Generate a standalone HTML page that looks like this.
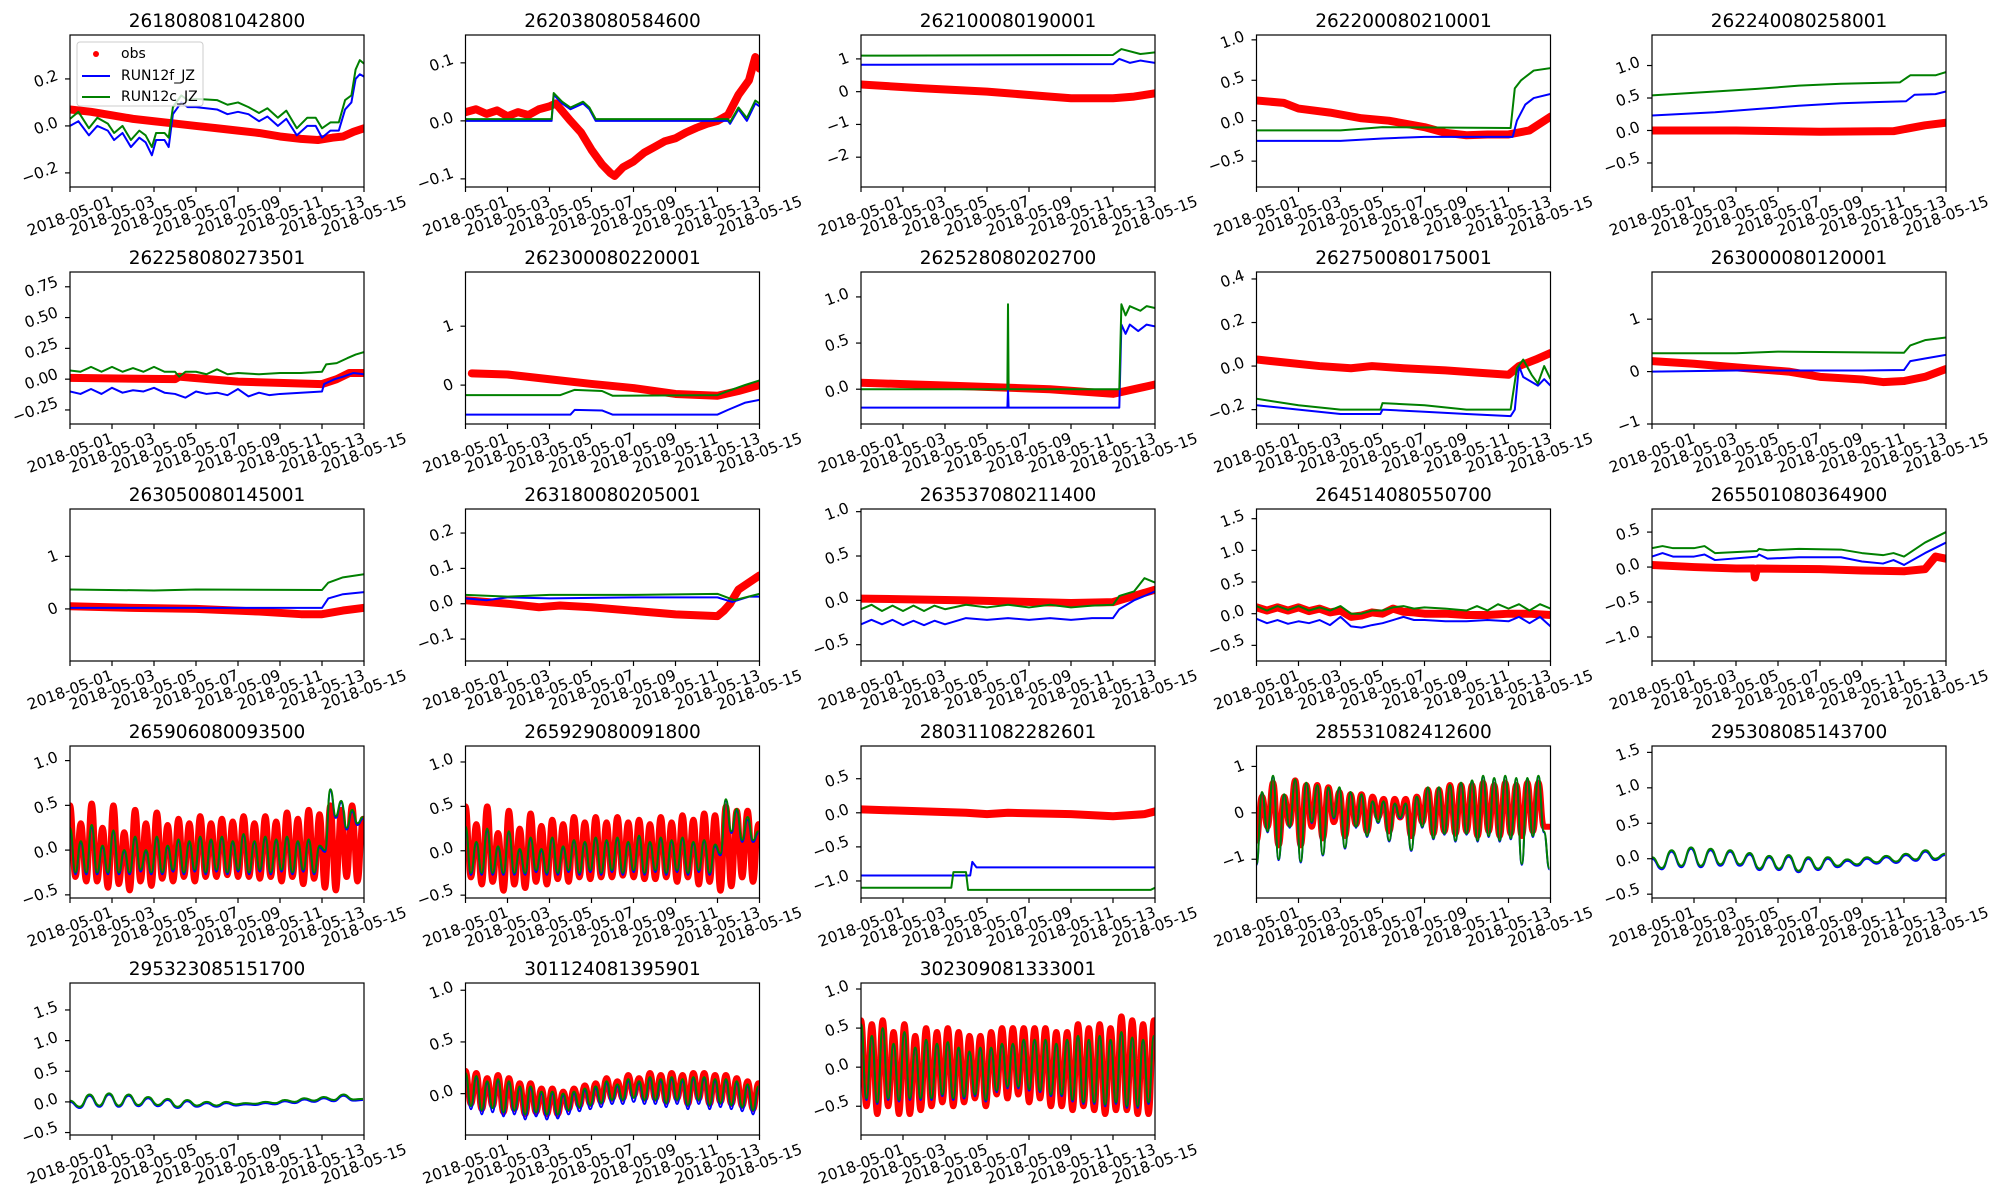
<!DOCTYPE html>
<html><head><meta charset="utf-8">
<style>
html,body{margin:0;padding:0;background:#fff;}
svg{display:block;font-family:"DejaVu Sans","Liberation Sans",sans-serif;}
</style></head>
<body>
<svg id="fig" width="2000" height="1200" viewBox="0 0 2000 1200" xmlns="http://www.w3.org/2000/svg"></svg>
<script>
// ---------- chart data ----------
const titles = ["261808081042800","262038080584600","262100080190001","262200080210001","262240080258001",
"262258080273501","262300080220001","262528080202700","262750080175001","263000080120001",
"263050080145001","263180080205001","263537080211400","264514080550700","265501080364900",
"265906080093500","265929080091800","280311082282601","285531082412600","295308085143700",
"295323085151700","301124081395901","302309081333001"];
const yLims = [[-0.26,0.387],[-0.114,0.148],[-2.91,1.73],[-0.82,1.06],[-0.87,1.47],
[-0.364,0.87],[-0.66,1.92],[-0.377,1.27],[-0.266,0.432],[-1.0,1.9],
[-0.99,1.9],[-0.162,0.268],[-0.684,1.03],[-0.747,1.653],[-1.343,0.83],
[-0.535,1.163],[-0.532,1.18],[-1.25,0.98],[-1.835,1.44],[-0.554,1.59],
[-0.54,1.94],[-0.4,1.07],[-0.868,1.077]];
const yTickVals = [[-0.2,0,0.2],[-0.1,0,0.1],[-2,-1,0,1],[-0.5,0,0.5,1],[-0.5,0,0.5,1],
[-0.25,0,0.25,0.5,0.75],[0,1],[0,0.5,1],[-0.2,0,0.2,0.4],[-1,0,1],
[0,1],[-0.1,0,0.1,0.2],[-0.5,0,0.5,1],[-0.5,0,0.5,1,1.5],[-1,-0.5,0,0.5],
[-0.5,0,0.5,1],[-0.5,0,0.5,1],[-1,-0.5,0,0.5],[-1,0,1],[-0.5,0,0.5,1,1.5],
[-0.5,0,0.5,1,1.5],[0,0.5,1],[-0.5,0,0.5,1]];
const yTickLabels = [["−0.2","0.0","0.2"],["−0.1","0.0","0.1"],["−2","−1","0","1"],["−0.5","0.0","0.5","1.0"],["−0.5","0.0","0.5","1.0"],
["−0.25","0.00","0.25","0.50","0.75"],["0","1"],["0.0","0.5","1.0"],["−0.2","0.0","0.2","0.4"],["−1","0","1"],
["0","1"],["−0.1","0.0","0.1","0.2"],["−0.5","0.0","0.5","1.0"],["−0.5","0.0","0.5","1.0","1.5"],["−1.0","−0.5","0.0","0.5"],
["−0.5","0.0","0.5","1.0"],["−0.5","0.0","0.5","1.0"],["−1.0","−0.5","0.0","0.5"],["−1","0","1"],["−0.5","0.0","0.5","1.0","1.5"],
["−0.5","0.0","0.5","1.0","1.5"],["0.0","0.5","1.0"],["−0.5","0.0","0.5","1.0"]];
const xTickDays = [0,2,4,6,8,10,12,14];
const xTickLabels = ["2018-05-01","2018-05-03","2018-05-05","2018-05-07","2018-05-09","2018-05-11","2018-05-13","2018-05-15"];
const legendLabels = ["obs","RUN12f_JZ","RUN12c_JZ"];

// series as [day, value] pairs
const obs1=[[0,0.07],[1,0.06],[2,0.045],[3,0.03],[4,0.02],[5,0.01],[6,0.0],[7,-0.01],[8,-0.02],[9,-0.03],[10,-0.045],[11,-0.055],[11.8,-0.06],[12.5,-0.05],[13,-0.045],[13.5,-0.025],[14,-0.01]];
const f1=[[0,0.0],[0.4,0.02],[0.9,-0.04],[1.3,0.0],[1.8,-0.02],[2.1,-0.06],[2.5,-0.03],[2.9,-0.09],[3.3,-0.05],[3.6,-0.07],[3.9,-0.125],[4.1,-0.06],[4.5,-0.06],[4.7,-0.09],[4.9,0.05],[5.3,0.1],[5.6,0.08],[6,0.08],[7,0.07],[7.5,0.05],[8,0.06],[8.5,0.05],[9,0.02],[9.4,0.04],[9.9,0.0],[10.3,0.03],[10.8,-0.04],[11.3,0.0],[11.7,0.0],[12,-0.05],[12.4,-0.02],[12.8,-0.02],[13.1,0.07],[13.4,0.1],[13.6,0.2],[13.8,0.22],[14,0.21]];
const c1=[[0,0.03],[0.4,0.06],[0.9,-0.01],[1.3,0.035],[1.8,0.01],[2.1,-0.03],[2.5,0.0],[2.9,-0.06],[3.3,-0.02],[3.6,-0.04],[3.9,-0.09],[4.1,-0.03],[4.5,-0.03],[4.7,-0.05],[4.9,0.08],[5.3,0.13],[5.6,0.11],[6,0.115],[7,0.11],[7.5,0.09],[8,0.1],[8.5,0.08],[9,0.055],[9.4,0.075],[9.9,0.035],[10.3,0.065],[10.8,-0.01],[11.3,0.035],[11.7,0.035],[12,-0.01],[12.4,0.015],[12.8,0.015],[13.1,0.11],[13.4,0.13],[13.6,0.24],[13.8,0.28],[14,0.265]];
const obs2=[[0,0.015],[0.5,0.02],[1,0.012],[1.5,0.018],[2,0.008],[2.5,0.015],[3,0.01],[3.5,0.02],[4,0.025],[4.3,0.03],[5,0.0],[5.5,-0.02],[6,-0.05],[6.5,-0.075],[6.9,-0.09],[7.1,-0.095],[7.5,-0.08],[8,-0.07],[8.5,-0.055],[9,-0.045],[9.5,-0.035],[10,-0.03],[10.5,-0.02],[11,-0.012],[11.5,-0.005],[12,0.0],[12.5,0.01],[13,0.045],[13.5,0.07],[13.8,0.11],[14,0.09]];
const f2=[[0,0.0],[4.1,0.0],[4.2,0.045],[4.6,0.03],[5.0,0.02],[5.6,0.03],[5.9,0.02],[6.2,0.0],[12.5,0.0],[12.6,-0.005],[13.0,0.02],[13.4,0.0],[13.8,0.03],[14,0.025]];
const c2=[[0,0.003],[4.1,0.003],[4.2,0.048],[4.6,0.033],[5.0,0.023],[5.6,0.033],[5.9,0.023],[6.2,0.003],[12.5,0.003],[12.6,-0.002],[13.0,0.023],[13.4,0.005],[13.8,0.035],[14,0.03]];
const obs3=[[0,0.22],[3,0.1],[6,0.0],[9,-0.15],[10,-0.2],[12,-0.2],[13,-0.15],[14,-0.05]];
const f3=[[0,0.82],[12,0.84],[12.3,1.0],[12.8,0.88],[13.3,0.95],[14,0.88]];
const c3=[[0,1.1],[12,1.12],[12.4,1.3],[13.3,1.15],[14,1.2]];
const obs4=[[0,0.25],[1.3,0.22],[2,0.15],[3.5,0.1],[5,0.03],[6.3,0.0],[8,-0.08],[9,-0.15],[10,-0.18],[11,-0.17],[12,-0.17],[13,-0.12],[14,0.05]];
const f4=[[0,-0.25],[4,-0.25],[6,-0.22],[8,-0.2],[12.2,-0.2],[12.4,0.0],[12.8,0.2],[13.2,0.28],[14,0.33]];
const c4=[[0,-0.12],[4,-0.12],[6,-0.08],[12.1,-0.09],[12.3,0.4],[12.6,0.5],[13.2,0.62],[14,0.65]];
const obs5=[[0,0.0],[4,0.0],[8,-0.02],[11.5,-0.01],[13,0.08],[14,0.12]];
const f5=[[0,0.23],[3,0.28],[5,0.33],[7,0.38],[9,0.42],[11,0.44],[12.1,0.45],[12.5,0.55],[13.5,0.56],[14,0.6]];
const c5=[[0,0.54],[3,0.6],[5,0.64],[7,0.69],[9,0.72],[11.8,0.74],[12.3,0.85],[13.5,0.85],[14,0.9]];
const obs6=[[0,0.01],[5,0.0],[5.2,0.02],[8,-0.02],[12,-0.04],[12.7,0.0],[13.3,0.05],[14,0.05]];
const f6=[[0,-0.1],[0.5,-0.12],[1,-0.08],[1.5,-0.12],[2,-0.07],[2.5,-0.11],[3,-0.09],[3.5,-0.1],[4,-0.07],[4.5,-0.11],[5,-0.12],[5.5,-0.15],[6,-0.1],[6.5,-0.12],[7,-0.11],[7.5,-0.13],[8,-0.08],[8.5,-0.14],[9,-0.11],[9.5,-0.13],[10,-0.12],[11,-0.11],[12,-0.1],[12.1,-0.04],[12.6,0.0],[13,0.02],[13.5,0.05],[14,0.04]];
const c6=[[0,0.07],[0.5,0.06],[1,0.1],[1.5,0.06],[2,0.1],[2.5,0.06],[3,0.09],[3.5,0.06],[4,0.1],[4.5,0.06],[5,0.06],[5.2,0.02],[5.5,0.06],[6,0.06],[6.5,0.04],[7,0.08],[7.5,0.04],[8,0.05],[9,0.04],[10,0.05],[11,0.05],[12,0.06],[12.2,0.12],[12.7,0.13],[13.2,0.17],[13.6,0.2],[14,0.22]];
const obs7=[[0.3,0.2],[2,0.18],[4,0.1],[6,0.02],[8,-0.05],[10,-0.15],[12,-0.18],[13,-0.1],[14,0.0]];
const f7=[[0,-0.5],[5,-0.5],[5.2,-0.42],[6.5,-0.43],[7,-0.5],[12,-0.5],[12.5,-0.42],[13.3,-0.3],[14,-0.25]];
const c7=[[0,-0.17],[4.5,-0.17],[5.2,-0.08],[6.5,-0.1],[7,-0.18],[12,-0.17],[12.5,-0.1],[13.3,0.0],[14,0.08]];
const obs8=[[0,0.07],[4,0.04],[9,0.0],[12,-0.05],[13,0.0],[14,0.05]];
const f8=[[0,-0.2],[6.97,-0.2],[7.0,0.0],[7.03,-0.2],[12.3,-0.2],[12.4,0.7],[12.6,0.6],[12.8,0.7],[13.2,0.63],[13.6,0.7],[14,0.68]];
const c8=[[0,0.0],[6.97,0.0],[7.0,0.92],[7.03,0.0],[12.3,0.0],[12.4,0.92],[12.6,0.8],[12.8,0.9],[13.3,0.85],[13.6,0.9],[14,0.88]];
const obs9=[[0,0.03],[3,0.0],[4.5,-0.01],[5.5,0.0],[7,-0.01],[9,-0.02],[10.5,-0.03],[12,-0.04],[12.5,0.0],[13.3,0.03],[14,0.06]];
const f9=[[0,-0.18],[2,-0.2],[4,-0.22],[5.9,-0.22],[6.0,-0.2],[8,-0.21],[10,-0.22],[12.1,-0.23],[12.3,-0.2],[12.5,0.0],[12.7,-0.05],[13.4,-0.09],[13.7,-0.06],[14,-0.09]];
const c9=[[0,-0.15],[2,-0.18],[4,-0.2],[5.9,-0.2],[6.0,-0.17],[8,-0.18],[10,-0.2],[12.1,-0.2],[12.4,-0.01],[12.7,0.03],[13.1,-0.04],[13.4,-0.08],[13.7,0.0],[14,-0.06]];
const obs10=[[0,0.2],[2,0.15],[4,0.08],[6.5,0.0],[8,-0.1],[10,-0.15],[11,-0.2],[12,-0.18],[13,-0.1],[14,0.05]];
const f10=[[0,0.0],[4,0.02],[10,0.02],[12,0.03],[12.3,0.2],[13,0.25],[14,0.32]];
const c10=[[0,0.35],[4,0.35],[6,0.38],[12,0.36],[12.3,0.5],[13,0.6],[14,0.65]];
const obs11=[[0,0.05],[3,0.02],[6,0.0],[9,-0.05],[11,-0.1],[12,-0.1],[13,-0.03],[14,0.02]];
const f11=[[0,0.02],[12,0.02],[12.3,0.2],[13,0.28],[14,0.32]];
const c11=[[0,0.37],[4,0.35],[6,0.37],[12,0.36],[12.3,0.5],[13,0.6],[14,0.66]];
const obs12=[[0,0.01],[2,0.0],[3.5,-0.01],[4.5,-0.005],[6,-0.01],[8,-0.02],[10,-0.03],[12,-0.035],[12.3,-0.02],[12.6,0.0],[13,0.04],[14,0.08]];
const f12=[[0,0.015],[1,0.01],[2,0.018],[4,0.015],[8,0.018],[12,0.018],[12.7,0.005],[13.5,0.02],[14,0.02]];
const c12=[[0,0.025],[2,0.02],[4,0.025],[8,0.025],[12,0.028],[12.8,0.01],[14,0.028]];
const obs13=[[0,0.02],[5,0.0],[10,-0.03],[12,-0.02],[13,0.05],[14,0.12]];
const f13=[[0,-0.27],[0.5,-0.22],[1,-0.27],[1.5,-0.22],[2,-0.28],[2.5,-0.23],[3,-0.28],[3.5,-0.23],[4,-0.27],[5,-0.2],[6,-0.22],[7,-0.2],[8,-0.22],[9,-0.2],[10,-0.22],[11,-0.2],[12,-0.2],[12.3,-0.1],[13,0.0],[14,0.1]];
const c13=[[0,-0.1],[0.5,-0.05],[1,-0.12],[1.5,-0.06],[2,-0.12],[2.5,-0.06],[3,-0.12],[3.5,-0.06],[4,-0.1],[5,-0.05],[6,-0.08],[7,-0.05],[8,-0.08],[9,-0.05],[10,-0.08],[11,-0.06],[12,-0.05],[12.3,0.05],[13,0.1],[13.5,0.25],[14,0.2]];
const obs14=[[0,0.1],[0.5,0.05],[1,0.1],[1.5,0.05],[2,0.1],[2.5,0.04],[3,0.08],[3.5,0.02],[4,0.05],[4.5,-0.05],[5,-0.03],[5.5,0.02],[6,0.0],[6.5,0.08],[7,0.03],[7.5,0.02],[8,0.0],[9,0.0],[10,-0.02],[11,-0.02],[12,0.0],[13,0.0],[14,-0.02]];
const f14=[[0,-0.08],[0.5,-0.15],[1,-0.1],[1.5,-0.16],[2,-0.12],[2.5,-0.15],[3,-0.1],[3.5,-0.18],[4,-0.05],[4.5,-0.2],[5,-0.22],[5.5,-0.18],[6,-0.15],[6.5,-0.1],[7,-0.05],[7.5,-0.1],[8,-0.1],[9,-0.12],[10,-0.12],[11,-0.1],[12,-0.12],[12.5,-0.05],[13,-0.15],[13.5,-0.05],[14,-0.2]];
const c14=[[0,0.12],[0.5,0.05],[1,0.12],[1.5,0.06],[2,0.12],[2.5,0.05],[3,0.1],[3.5,0.05],[4,0.12],[4.5,0.0],[5,0.0],[5.5,0.05],[6,0.05],[6.5,0.1],[7,0.12],[7.5,0.08],[8,0.1],[9,0.08],[10,0.05],[10.5,0.12],[11,0.05],[11.5,0.15],[12,0.08],[12.5,0.15],[13,0.05],[13.5,0.15],[14,0.08]];
const obs15=[[0,0.03],[2,0.0],[4,-0.02],[4.85,-0.02],[4.9,-0.15],[5.0,-0.02],[8,-0.03],[10,-0.05],[12,-0.06],[13,-0.03],[13.5,0.15],[14,0.12]];
const f15=[[0,0.15],[0.5,0.2],[1,0.15],[2,0.15],[2.5,0.18],[3,0.1],[5,0.15],[5.1,0.18],[5.5,0.12],[7,0.14],[9,0.14],[10,0.08],[11,0.05],[11.5,0.1],[12,0.03],[13,0.2],[14,0.35]];
const c15=[[0,0.27],[0.5,0.3],[1,0.27],[2,0.27],[2.5,0.3],[3,0.2],[5,0.23],[5.1,0.26],[5.5,0.24],[7,0.26],[9,0.25],[10,0.2],[11,0.17],[11.5,0.2],[12,0.15],[13,0.35],[14,0.5]];
const obs18=[[0,0.05],[3,0.02],[5,0.0],[6,-0.02],[7,0.0],[10,-0.02],[12,-0.05],[13.5,-0.02],[14,0.02]];
const f18=[[0,-0.92],[5.2,-0.92],[5.3,-0.72],[5.5,-0.8],[14,-0.8]];
const c18=[[0,-1.1],[4.3,-1.1],[4.4,-0.87],[5.0,-0.87],[5.1,-1.13],[13.8,-1.13],[14,-1.1]];

// tidal series: alternating extrema, evenly spaced over the record
const obs16=[0.5,-0.3,0.3,-0.35,0.52,-0.35,0.25,-0.42,0.5,-0.38,0.2,-0.45,0.45,-0.35,0.3,-0.4,0.42,-0.32,0.28,-0.35,0.35,-0.3,0.3,-0.35,0.38,-0.3,0.3,-0.3,0.35,-0.28,0.32,-0.3,0.38,-0.3,0.3,-0.32,0.38,-0.3,0.32,-0.35,0.42,-0.3,0.35,-0.38,0.45,-0.32,0.4,-0.42,0.5,-0.45,0.45,-0.3,0.5,-0.35,0.35];
const f16=[0.22,-0.27,0.08,-0.27,0.25,-0.27,0.03,-0.27,0.2,-0.27,-0.02,-0.27,0.13,-0.24,-0.02,-0.27,0.13,-0.27,0.03,-0.24,0.1,-0.27,0.08,-0.24,0.13,-0.27,0.1,-0.24,0.13,-0.27,0.08,-0.24,0.16,-0.27,0.08,-0.24,0.13,-0.27,0.1,-0.24,0.13,-0.27,0.08,-0.24,0.1,-0.27,0.03,-0.02,0.66,0.36,0.53,0.23,0.43,0.28,0.35];
const c16=[0.25,-0.25,0.1,-0.25,0.28,-0.25,0.05,-0.25,0.22,-0.25,0.0,-0.25,0.15,-0.22,0.0,-0.25,0.15,-0.25,0.05,-0.22,0.12,-0.25,0.1,-0.22,0.15,-0.25,0.12,-0.22,0.15,-0.25,0.1,-0.22,0.18,-0.25,0.1,-0.22,0.15,-0.25,0.12,-0.22,0.15,-0.25,0.1,-0.22,0.12,-0.25,0.05,0.0,0.68,0.38,0.55,0.25,0.45,0.3,0.37];
const obs17=[0.5,-0.3,0.3,-0.38,0.5,-0.35,0.2,-0.45,0.45,-0.38,0.25,-0.42,0.42,-0.35,0.28,-0.38,0.35,-0.32,0.3,-0.35,0.38,-0.3,0.32,-0.32,0.38,-0.3,0.32,-0.3,0.38,-0.28,0.32,-0.3,0.35,-0.32,0.3,-0.32,0.38,-0.3,0.32,-0.35,0.4,-0.3,0.35,-0.38,0.42,-0.35,0.4,-0.45,0.5,-0.4,0.45,-0.3,0.45,-0.35,0.3];
const f17=[0.25,-0.27,0.08,-0.27,0.22,-0.27,0.03,-0.27,0.2,-0.27,0.0,-0.27,0.13,-0.24,0.0,-0.27,0.13,-0.27,0.03,-0.24,0.1,-0.27,0.08,-0.24,0.13,-0.27,0.1,-0.24,0.13,-0.27,0.08,-0.24,0.15,-0.27,0.08,-0.24,0.13,-0.27,0.1,-0.24,0.13,-0.27,0.08,-0.24,0.1,-0.27,0.05,-0.05,0.56,0.2,0.45,0.1,0.35,0.1,0.2];
const c17=[0.27,-0.25,0.1,-0.25,0.25,-0.25,0.05,-0.25,0.22,-0.25,0.02,-0.25,0.15,-0.22,0.02,-0.25,0.15,-0.25,0.05,-0.22,0.12,-0.25,0.1,-0.22,0.15,-0.25,0.12,-0.22,0.15,-0.25,0.1,-0.22,0.17,-0.25,0.1,-0.22,0.15,-0.25,0.12,-0.22,0.15,-0.25,0.1,-0.22,0.12,-0.25,0.07,-0.03,0.58,0.22,0.47,0.12,0.38,0.12,0.22];
const obs19=[-0.6,0.35,-0.3,0.65,-0.7,0.35,-0.25,0.7,-0.7,0.6,-0.3,0.6,-0.55,0.55,-0.2,0.45,-0.5,0.4,-0.25,0.4,-0.4,0.35,-0.1,0.3,-0.4,0.3,-0.1,0.3,-0.5,0.35,-0.2,0.5,-0.45,0.5,-0.4,0.6,-0.45,0.6,-0.4,0.6,-0.5,0.65,-0.4,0.6,-0.5,0.65,-0.45,0.6,-0.5,0.65,-0.4,0.65,-0.3,-0.3];
const f19=[-1.12,0.43,-0.42,0.78,-1.02,0.38,-0.32,0.7,-1.07,0.63,-0.22,0.58,-0.92,0.53,-0.12,0.53,-0.77,0.43,-0.32,0.38,-0.52,0.23,-0.22,0.23,-0.62,0.18,-0.12,0.18,-0.82,0.33,-0.32,0.53,-0.57,0.53,-0.47,0.58,-0.62,0.63,-0.47,0.68,-0.62,0.78,-0.52,0.73,-0.62,0.78,-0.57,0.73,-1.12,0.73,-0.52,0.78,-0.42,-1.22];
const c19=[-1.1,0.45,-0.4,0.8,-1.0,0.4,-0.3,0.72,-1.05,0.65,-0.2,0.6,-0.9,0.55,-0.1,0.55,-0.75,0.45,-0.3,0.4,-0.5,0.25,-0.2,0.25,-0.6,0.2,-0.1,0.2,-0.8,0.35,-0.3,0.55,-0.55,0.55,-0.45,0.6,-0.6,0.65,-0.45,0.7,-0.6,0.8,-0.5,0.75,-0.6,0.8,-0.55,0.75,-1.1,0.75,-0.5,0.8,-0.4,-1.2];
const f20=[0.0,-0.15,0.1,-0.12,0.14,-0.12,0.12,-0.1,0.1,-0.1,0.06,-0.16,0.02,-0.16,0.03,-0.19,0.0,-0.16,0.0,-0.12,-0.03,-0.1,0.0,-0.07,0.02,-0.06,0.05,-0.03,0.1,-0.02,0.05];
const c20=[0.02,-0.13,0.12,-0.1,0.16,-0.1,0.14,-0.08,0.12,-0.08,0.08,-0.14,0.04,-0.14,0.05,-0.17,0.02,-0.14,0.02,-0.1,-0.01,-0.08,0.02,-0.05,0.04,-0.04,0.07,-0.01,0.12,0.0,0.07];
const f21=[0.0,-0.1,0.1,-0.08,0.12,-0.08,0.1,-0.07,0.06,-0.07,0.03,-0.1,0.01,-0.08,-0.02,-0.08,-0.02,-0.06,-0.04,-0.05,-0.02,-0.04,0.01,-0.02,0.04,0.0,0.06,0.01,0.1,0.02,0.03];
const c21=[0.02,-0.08,0.12,-0.06,0.14,-0.06,0.12,-0.05,0.08,-0.05,0.05,-0.08,0.03,-0.06,0.0,-0.06,0.0,-0.04,-0.02,-0.03,0.0,-0.02,0.03,0.0,0.06,0.02,0.08,0.03,0.12,0.04,0.05];
const obs22=[0.22,-0.1,0.2,-0.15,0.15,-0.12,0.18,-0.18,0.15,-0.15,0.1,-0.2,0.1,-0.18,0.05,-0.2,0.05,-0.2,0.02,-0.15,0.05,-0.12,0.08,-0.1,0.1,-0.08,0.15,-0.05,0.12,-0.05,0.18,-0.02,0.15,-0.05,0.2,-0.05,0.18,-0.08,0.2,-0.05,0.18,-0.1,0.2,-0.05,0.2,-0.1,0.18,-0.08,0.18,-0.1,0.15,-0.12,0.12,-0.15,0.1];
const f22=[0.18,-0.15,0.15,-0.2,0.1,-0.18,0.12,-0.22,0.1,-0.2,0.05,-0.25,0.05,-0.22,0.0,-0.25,0.0,-0.24,-0.02,-0.2,0.0,-0.17,0.03,-0.15,0.05,-0.13,0.1,-0.1,0.07,-0.1,0.12,-0.08,0.1,-0.1,0.14,-0.1,0.12,-0.13,0.14,-0.1,0.12,-0.15,0.14,-0.1,0.14,-0.15,0.12,-0.13,0.12,-0.15,0.1,-0.17,0.07,-0.2,0.05];
const c22=[0.2,-0.12,0.17,-0.16,0.12,-0.14,0.14,-0.18,0.12,-0.16,0.07,-0.2,0.07,-0.18,0.02,-0.2,0.02,-0.2,0.0,-0.16,0.02,-0.13,0.05,-0.11,0.07,-0.09,0.12,-0.06,0.09,-0.06,0.14,-0.04,0.12,-0.06,0.16,-0.06,0.14,-0.09,0.16,-0.06,0.14,-0.11,0.16,-0.06,0.16,-0.11,0.14,-0.09,0.14,-0.11,0.12,-0.13,0.09,-0.16,0.07];
const obs23=[0.6,-0.5,0.55,-0.6,0.6,-0.5,0.45,-0.6,0.55,-0.6,0.4,-0.55,0.5,-0.5,0.45,-0.45,0.5,-0.5,0.45,-0.45,0.4,-0.4,0.4,-0.5,0.45,-0.35,0.5,-0.4,0.5,-0.35,0.5,-0.45,0.5,-0.4,0.5,-0.5,0.45,-0.5,0.45,-0.55,0.55,-0.5,0.5,-0.55,0.55,-0.6,0.5,-0.55,0.65,-0.55,0.6,-0.6,0.55,-0.6,0.6];
const f23=[0.53,-0.42,0.38,-0.47,0.48,-0.42,0.28,-0.44,0.43,-0.42,0.23,-0.42,0.33,-0.42,0.28,-0.37,0.3,-0.42,0.23,-0.4,0.18,-0.37,0.23,-0.44,0.23,-0.32,0.28,-0.27,0.28,-0.27,0.33,-0.3,0.33,-0.32,0.33,-0.37,0.28,-0.37,0.33,-0.44,0.38,-0.47,0.33,-0.47,0.38,-0.5,0.33,-0.47,0.43,-0.52,0.36,-0.52,0.33,-0.47,0.38];
const c23=[0.55,-0.4,0.4,-0.45,0.5,-0.4,0.3,-0.42,0.45,-0.4,0.25,-0.4,0.35,-0.4,0.3,-0.35,0.32,-0.4,0.25,-0.38,0.2,-0.35,0.25,-0.42,0.25,-0.3,0.3,-0.25,0.3,-0.25,0.35,-0.28,0.35,-0.3,0.35,-0.35,0.3,-0.35,0.35,-0.42,0.4,-0.45,0.35,-0.45,0.4,-0.48,0.35,-0.45,0.45,-0.5,0.38,-0.5,0.35,-0.45,0.4];

const obsSeries=[obs1,obs2,obs3,obs4,obs5,obs6,obs7,obs8,obs9,obs10,obs11,obs12,obs13,obs14,obs15,obs16,obs17,obs18,obs19,null,null,obs22,obs23];
const fSeries=[f1,f2,f3,f4,f5,f6,f7,f8,f9,f10,f11,f12,f13,f14,f15,f16,f17,f18,f19,f20,f21,f22,f23];
const cSeries=[c1,c2,c3,c4,c5,c6,c7,c8,c9,c10,c11,c12,c13,c14,c15,c16,c17,c18,c19,c20,c21,c22,c23];

// ---------- rendering ----------
const NS="http://www.w3.org/2000/svg";
const svg=document.getElementById('fig');
const COL_L=[70,465.5,861,1256.5,1652], ROW_T=[35,272,509,746,983], AW=294, AH=152;
const DAY_SPAN=14, REC_END=13.95;
function mk(tag,attrs,parent){const e=document.createElementNS(NS,tag);for(const k in attrs)e.setAttribute(k,attrs[k]);(parent||svg).appendChild(e);return e;}

function pathPairs(arr,sx,sy){return arr.map((p,i)=>(i?'L':'M')+sx(p[0]).toFixed(2)+','+sy(p[1]).toFixed(2)).join('');}
function pathTidal(arr,sx,sy){
  const n=arr.length, step=REC_END/(n-1);
  let d='M'+sx(0).toFixed(2)+','+sy(arr[0]).toFixed(2);
  for(let i=1;i<n;i++){
    const x0=sx((i-1)*step), x1=sx(i*step), y0=sy(arr[i-1]), y1=sy(arr[i]), h=(x1-x0)/2;
    d+='C'+(x0+h).toFixed(2)+','+y0.toFixed(2)+' '+(x1-h).toFixed(2)+','+y1.toFixed(2)+' '+x1.toFixed(2)+','+y1.toFixed(2);
  }
  return d;
}
function isPairs(arr){return Array.isArray(arr[0]);}
function seriesPath(arr,sx,sy){return isPairs(arr)?pathPairs(arr,sx,sy):pathTidal(arr,sx,sy);}

titles.forEach((title,k)=>{
  const L=COL_L[k%5], T=ROW_T[Math.floor(k/5)];
  const [y0,y1]=yLims[k];
  const sx=t=>L+t/DAY_SPAN*AW;
  const sy=v=>T+AH-(v-y0)/(y1-y0)*AH;
  const g=mk('g',{});
  
  
  const cp=mk('clipPath',{id:'clip'+k},g);
  mk('rect',{x:L,y:T,width:AW,height:AH},cp);
  const t=mk('text',{x:L+AW/2,y:T-8,'text-anchor':'middle','font-size':'18.5',fill:'#000'},g);
  t.textContent=title;
  
  
  const plot=mk('g',{'clip-path':'url(#clip'+k+')'},g);
  
  
  if(obsSeries[k]){
    const sw=isPairs(obsSeries[k])?8:6;
    const p=mk('path',{d:seriesPath(obsSeries[k],sx,sy),fill:'none',stroke:'#ff0000','stroke-width':sw,'stroke-linecap':'round','stroke-linejoin':'round'},plot);
    
    
  }
  const pf=mk('path',{d:seriesPath(fSeries[k],sx,sy),fill:'none',stroke:'#0000ff','stroke-width':2,'stroke-linejoin':'round'},plot);
  
  
  const pc=mk('path',{d:seriesPath(cSeries[k],sx,sy),fill:'none',stroke:'#008000','stroke-width':2,'stroke-linejoin':'round'},plot);
  
  
  const fr=mk('rect',{x:L,y:T,width:AW,height:AH,fill:'none',stroke:'#000','stroke-width':1.2},g);
  
  
  // x ticks
  xTickDays.forEach((d,i)=>{
    const x=sx(d);
    mk('line',{x1:x,x2:x,y1:T+AH,y2:T+AH+5,stroke:'#000','stroke-width':1.2},g);
    const ly=T+AH+29;
    const tl=mk('text',{x:x,y:ly,'text-anchor':'middle','dominant-baseline':'central','font-size':'15.4',transform:'rotate(-20 '+x+' '+ly+')'},g);
    tl.textContent=xTickLabels[i];
    
    
  });
  // y ticks
  yTickVals[k].forEach((v,i)=>{
    const y=sy(v);
    mk('line',{x1:L-5,x2:L,y1:y,y2:y,stroke:'#000','stroke-width':1.2},g);
    const tl=mk('text',{x:0,y:y,'text-anchor':'middle','dominant-baseline':'central','font-size':'15.4'},g);
    tl.textContent=yTickLabels[k][i];
    
    
    let w=tl.getComputedTextLength?tl.getComputedTextLength():30;
    const bw=w*Math.cos(20*Math.PI/180)+15*Math.sin(20*Math.PI/180);
    const cx=L-10-bw/2;
    tl.setAttribute('x',cx);
    tl.setAttribute('transform','rotate(-20 '+cx+' '+y+')');
  });
});

// legend in first subplot
(function(){
  const lg=mk('g',{});
  
  
  mk('rect',{x:77,y:42,width:126,height:64,rx:3,fill:'#fff','fill-opacity':0.8,stroke:'#cccccc','stroke-width':1},lg);
  const ys=[54,76,97];
  const cols=['#ff0000','#0000ff','#008000'];
  legendLabels.forEach((lab,i)=>{
    const e=mk('g',{},lg);
    
    
    if(i===0) mk('circle',{cx:96,cy:ys[i],r:3,fill:cols[i]},e);
    else mk('line',{x1:82,x2:110,y1:ys[i],y2:ys[i],stroke:cols[i],'stroke-width':2},e);
    const tx=mk('text',{x:121,y:ys[i],'dominant-baseline':'central','font-size':'14'},e);
    tx.textContent=lab;
  });
})();
</script>
</body></html>
